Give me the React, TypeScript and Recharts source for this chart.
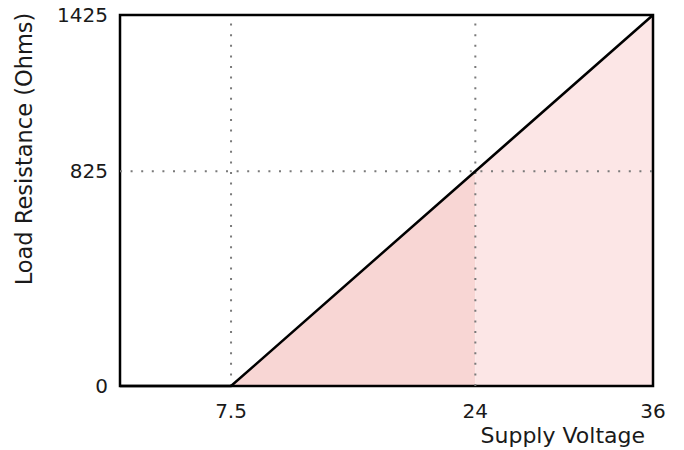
import { ComposedChart, Line, Area, XAxis, YAxis, ReferenceLine, ReferenceArea } from 'recharts';

const voltage = [0, 7.5, 24, 36];
const resistance = [0, 0, 825, 1425];
// shaded bands under the line: 7.5–24 V (darker) and 24–36 V (lighter)
const darkBand = [null, 0, 825, null];
const lightBand = [null, null, 825, 1425];

const xTicks = [7.5, 24, 36];
const yTicks = [0, 825, 1425];

const data = voltage.map((v, i) => ({
  v,
  line: resistance[i],
  dark: darkBand[i],
  light: lightBand[i],
}));

const FONT = '"DejaVu Sans", sans-serif';
const DOT = '#7a7a7a';

export default function App() {
  return (
    <div style={{ position: 'absolute', left: 0, top: 0, width: 684, height: 450, background: '#fff' }}>
      <ComposedChart
        width={684}
        height={450}
        data={data}
        margin={{ top: 15, right: 31, bottom: 0, left: 0 }}
      >
        <XAxis
          dataKey="v"
          type="number"
          domain={[0, 36]}
          ticks={xTicks}
          interval={0}
          height={64}
          tickSize={0}
          tickMargin={18}
          axisLine={false}
          tickLine={false}
          tick={{ fontSize: 20, fill: '#1a1a1a', fontFamily: FONT }}
          label={{
            content: () => (
              <text x={645} y={443} textAnchor="end" fontSize={22} fill="#1a1a1a" fontFamily={FONT}>
                Supply Voltage
              </text>
            ),
          }}
        />
        <YAxis
          type="number"
          domain={[0, 1425]}
          ticks={yTicks}
          interval={0}
          width={120}
          tickSize={0}
          tickMargin={12}
          axisLine={false}
          tickLine={false}
          tick={{ fontSize: 20, fill: '#1a1a1a', fontFamily: FONT }}
          label={{
            content: () => (
              <text
                x={24}
                y={149}
                transform="rotate(-90, 24, 149)"
                textAnchor="middle"
                dominantBaseline="central"
                fontSize={22.5}
                fill="#1a1a1a"
                fontFamily={FONT}
              >
                Load Resistance (Ohms)
              </text>
            ),
          }}
        />
        <Area
          type="linear"
          dataKey="dark"
          stroke="none"
          fill="#f8d6d4"
          fillOpacity={1}
          isAnimationActive={false}
        />
        <Area
          type="linear"
          dataKey="light"
          stroke="none"
          fill="#fce6e6"
          fillOpacity={1}
          isAnimationActive={false}
        />
        <ReferenceLine x={7.5} stroke={DOT} strokeWidth={2} strokeDasharray="2 8.6" />
        <ReferenceLine x={24} stroke={DOT} strokeWidth={2} strokeDasharray="2 8.6" />
        <ReferenceLine y={825} stroke={DOT} strokeWidth={2} strokeDasharray="2 8.6" />
        <Line
          type="linear"
          dataKey="line"
          stroke="#000"
          strokeWidth={2.5}
          dot={false}
          isAnimationActive={false}
        />
        <ReferenceArea x1={0} x2={36} y1={0} y2={1425} fill="none" stroke="#000" strokeWidth={2.5} />
      </ComposedChart>
    </div>
  );
}
